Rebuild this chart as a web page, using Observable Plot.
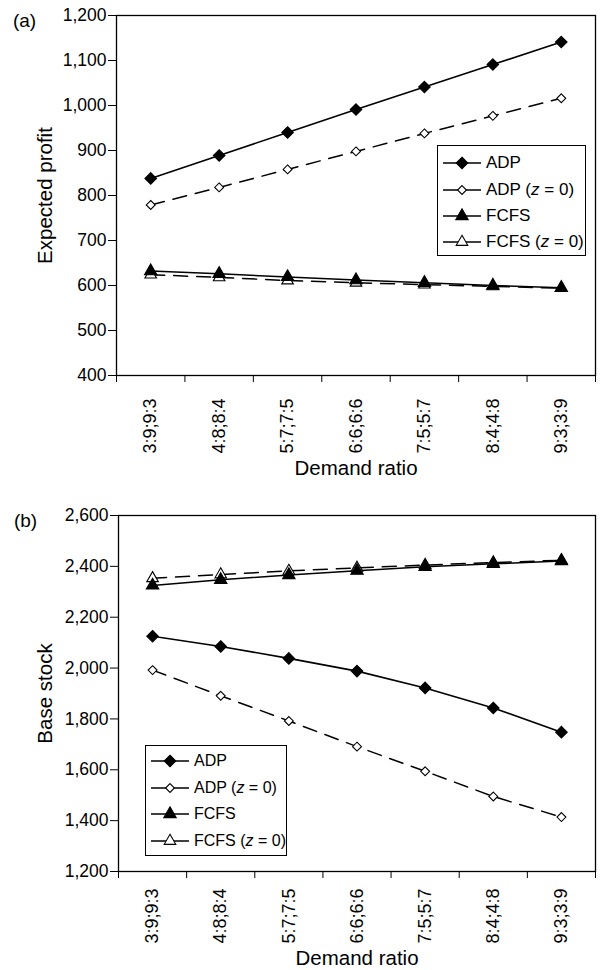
<!DOCTYPE html>
<html>
<head>
<meta charset="utf-8">
<script src="https://cdn.jsdelivr.net/npm/d3@7"></script>
<script src="https://cdn.jsdelivr.net/npm/@observablehq/plot@0.6"></script>
<style>
  body { margin: 0; background: #fff; font-family: "Liberation Sans", Arial, sans-serif; }
  #wrap { position: relative; width: 600px; height: 970px; }
  .panel { position: absolute; left: 0; width: 600px; }
  .legend { position: absolute; border: 1.2px solid #000; background: #fff; box-sizing: border-box; }
  .legend .row { position: absolute; left: 4px; height: 22px; display: flex; align-items: center; color: #000; white-space: nowrap; }
  .legend svg { display: block; margin-right: 4px; }
</style>
</head>
<body>
<div id="wrap"></div>
<script>
const categories = ["3:9;9:3", "4:8;8:4", "5:7;7:5", "6:6;6:6", "7:5;5:7", "8:4;4:8", "9:3;3:9"];

const seriesNames = ["ADP", "ADP (z = 0)", "FCFS", "FCFS (z = 0)"];

// Panel (a): expected profit
const profitADP    = [838, 889, 940, 991, 1041, 1091, 1141];
const profitADPz0  = [779, 818, 858, 898, 938, 977, 1016];
const profitFCFS   = [632, 626, 619, 612, 606, 600, 595];
const profitFCFSz0 = [624, 618, 611, 606, 602, 598, 594];

// Panel (b): base stock
const stockADP    = [2125, 2085, 2038, 1988, 1922, 1843, 1748];
const stockADPz0  = [1992, 1891, 1792, 1691, 1594, 1495, 1414];
const stockFCFS   = [2325, 2347, 2366, 2383, 2398, 2410, 2421];
const stockFCFSz0 = [2353, 2368, 2382, 2394, 2405, 2415, 2424];

const profitTicks = [400, 500, 600, 700, 800, 900, 1000, 1100, 1200];
const stockTicks  = [1200, 1400, 1600, 1800, 2000, 2200, 2400, 2600];

const styles = {
  "ADP":          {symbol: "diamond2", fill: "black", r: 5.2, dash: null, width: 1.6},
  "ADP (z = 0)":  {symbol: "diamond2", fill: "white", r: 4.0, dash: "14,9", width: 1.5},
  "FCFS":         {symbol: "triangle", fill: "black", r: 4.6, dash: null, width: 1.5},
  "FCFS (z = 0)": {symbol: "triangle", fill: "white", r: 4.3, dash: "14,9", width: 1.5}
};

const fmt = d3.format(",");

function makePanel(o) {
  const rows = [];
  o.series.forEach((vals, k) => {
    vals.forEach((v, i) => rows.push({x: i + 0.5, y: v, s: seriesNames[k]}));
  });
  const order = ["FCFS (z = 0)", "FCFS", "ADP (z = 0)", "ADP"];
  const marks = [
    Plot.axisY({ticks: o.ticks, tickFormat: fmt, tickSize: 8, tickPadding: 2, fontSize: 17.5, label: null}),
    Plot.axisX({ticks: d3.range(categories.length + 1), tickSize: 7, tickFormat: () => "", label: null}),
    Plot.axisX({ticks: categories.map((c, i) => i + 0.5), tickSize: 0, tickPadding: o.tickGap, tickRotate: -90,
      tickFormat: d => categories[Math.round(d - 0.5)], fontSize: 18, label: null}),
    Plot.frame({stroke: "black", strokeWidth: 1.3})
  ];
  for (const name of order) {
    const st = styles[name];
    marks.push(Plot.line(rows.filter(r => r.s === name), {x: "x", y: "y", stroke: "black", strokeWidth: st.width, strokeDasharray: st.dash}));
  }
  for (const name of order) {
    const st = styles[name];
    marks.push(Plot.dot(rows.filter(r => r.s === name), {x: "x", y: "y", symbol: () => st.symbol, r: st.r, fill: st.fill, stroke: "black", strokeWidth: 1.1}));
  }
  marks.push(Plot.text([o.ylabel], {frameAnchor: "left", rotate: -90, dx: o.ylabelDx, textAnchor: "middle", lineAnchor: "middle", fontSize: 20.5, fill: "black"}));
  marks.push(Plot.text(["Demand ratio"], {frameAnchor: "bottom", dy: o.xlabelDy, textAnchor: "middle", lineAnchor: "middle", fontSize: 20.5, fill: "black"}));
  marks.push(Plot.text([o.tag], {frameAnchor: "top-left", dx: o.tagDx, dy: 5, textAnchor: "middle", lineAnchor: "middle", fontSize: 19, fill: "black"}));
  return Plot.plot({
    width: 600,
    height: o.height,
    marginTop: o.marginTop,
    marginBottom: o.marginBottom,
    marginLeft: o.marginLeft,
    marginRight: 5,
    style: {fontFamily: '"Liberation Sans", Arial, sans-serif', color: "black", background: "white"},
    x: {type: "linear", domain: [0, categories.length]},
    y: {domain: [o.ticks[0], o.ticks[o.ticks.length - 1]]},
    marks
  });
}

function makeLegend(o) {
  const div = document.createElement("div");
  div.className = "legend";
  Object.assign(div.style, {left: o.left + "px", top: o.top + "px", width: o.width + "px", height: o.height + "px"});
  seriesNames.forEach((name, k) => {
    const st = styles[name];
    const row = document.createElement("div");
    row.className = "row";
    row.style.top = (o.rowTops[k] - 11) + "px";
    row.style.fontSize = o.fontSize + "px";
    const svg = d3.create("svg").attr("width", 40).attr("height", 22);
    svg.append("line").attr("x1", 1).attr("x2", 39).attr("y1", 11).attr("y2", 11).attr("stroke", "black").attr("stroke-width", 1.5);
    const sym = st.symbol === "diamond2" ? d3.symbolDiamond2 : d3.symbolTriangle;
    svg.append("path").attr("transform", "translate(20,11)")
      .attr("d", d3.symbol(sym, Math.PI * st.r * st.r)())
      .attr("fill", st.fill).attr("stroke", "black").attr("stroke-width", 1.1);
    row.appendChild(svg.node());
    const label = document.createElement("span");
    const m = name.match(/^(.*)\(z = 0\)$/);
    if (m) {
      label.innerHTML = m[1] + "(<i>z</i> = 0)";
    } else {
      label.textContent = name;
    }
    row.appendChild(label);
    div.appendChild(row);
  });
  return div;
}

const wrap = document.getElementById("wrap");

const pa = document.createElement("div");
pa.className = "panel"; pa.style.top = "0px";
pa.appendChild(makePanel({
  series: [profitADP, profitADPz0, profitFCFS, profitFCFSz0],
  ticks: profitTicks, height: 490, marginTop: 15, marginBottom: 115, marginLeft: 116,
  tickGap: 23, ylabel: "Expected profit", ylabelDx: -71, xlabelDy: 93, tag: "(a)", tagDx: -92
}));
wrap.appendChild(pa);

const pb = document.createElement("div");
pb.className = "panel"; pb.style.top = "490px";
pb.appendChild(makePanel({
  series: [stockADP, stockADPz0, stockFCFS, stockFCFSz0],
  ticks: stockTicks, height: 480, marginTop: 25, marginBottom: 99, marginLeft: 118,
  tickGap: 17, ylabel: "Base stock", ylabelDx: -73, xlabelDy: 87, tag: "(b)", tagDx: -93
}));
wrap.appendChild(pb);

wrap.appendChild(makeLegend({left: 437, top: 145, width: 149, height: 111, rowTops: [17, 44, 70, 96], fontSize: 17}));
wrap.appendChild(makeLegend({left: 145, top: 745, width: 142, height: 111, rowTops: [15, 42, 68, 95], fontSize: 16}));
</script>
</body>
</html>
